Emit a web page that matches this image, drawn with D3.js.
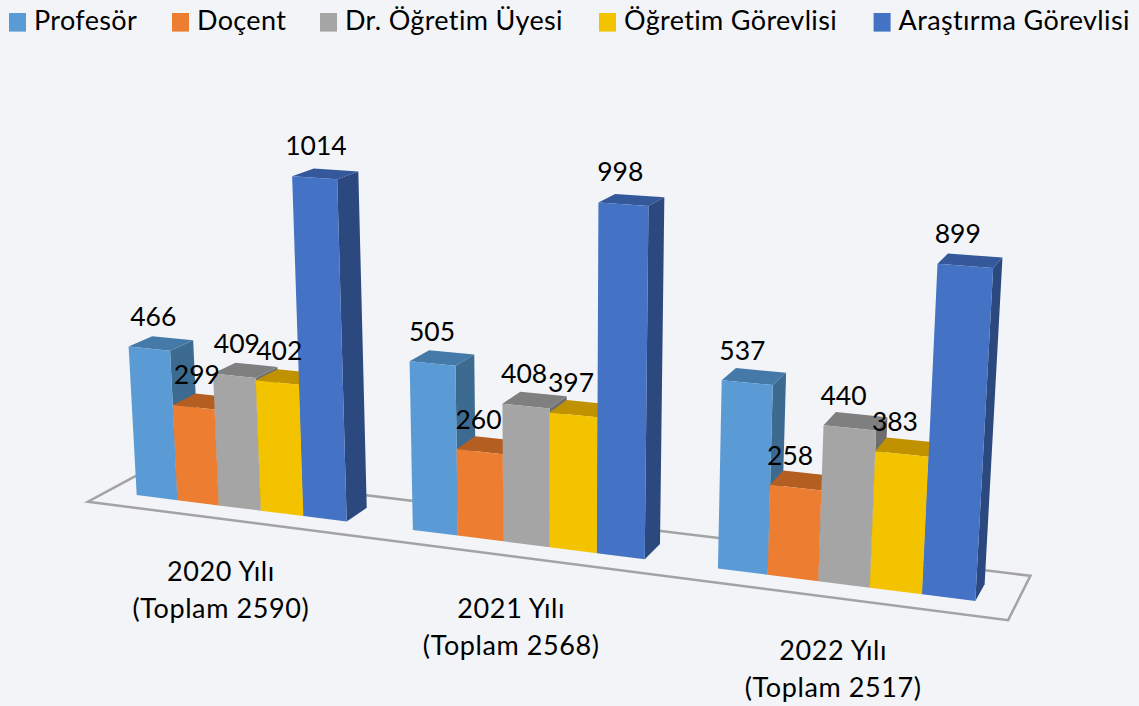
<!DOCTYPE html>
<html>
<head>
<meta charset="utf-8">
<script src="https://cdn.jsdelivr.net/npm/d3@7"></script>
<style>
  html, body { margin: 0; padding: 0; background: #f2f4f7; }
  svg { display: block; }
  text { font-family: Lato, "Open Sans", sans-serif; fill: #000; }
</style>
</head>
<body>
<script>
// Basic props
let w = 1139, h = 706;

// Data
let years = ["2020 Yılı", "2021 Yılı", "2022 Yılı"];
let totals = ["(Toplam 2590)", "(Toplam 2568)", "(Toplam 2517)"];
let titles = ["Profesör", "Doçent", "Dr. Öğretim Üyesi", "Öğretim Görevlisi", "Araştırma Görevlisi"];
let profesor = [466, 505, 537];
let docent = [299, 260, 258];
let drUyesi = [409, 408, 440];
let ogretim = [402, 397, 383];
let arastirma = [1014, 998, 899];
let seriesValues = [profesor, docent, drUyesi, ogretim, arastirma];

// front, top, side colours per series
let fronts = ["#5b9bd5", "#ed7d31", "#a5a5a5", "#f4c300", "#4472c4"];
let tops = ["#4579a8", "#b55e22", "#7f7f7f", "#c09200", "#35589a"];
let sides = ["#3d6a91", "#a85620", "#6e6e6e", "#a87f00", "#2b487f"];

// Scales: everything is in "bar widths" along the floor, thousands upward
let groupScale = d3.scaleBand()
  .domain(years)
  .range([0, 18])
  .paddingInner(1.5 / 6.5);

let barScale = d3.scaleBand()
  .domain(titles)
  .range([0, groupScale.bandwidth()]);

let heightScale = d3.scaleLinear()
  .domain([0, 1000])
  .range([0, 1]);

// Camera fitted to the corners of the bars in the picture
let project = (x, v, z) => {
  let d = 1 - 0.0073 * x - 0.04 * v + 0.01816 * z;
  return [
    (136.7 + 39.47 * x - 22.5 * v + 25.96 * z) / d,
    (495 + 1.5 * x - 332.5 * v - 4 * z) / d
  ];
};

let poly = d3.line().curve(d3.curveLinearClosed);

let svg = d3.select("body")
  .append("svg")
  .attr("width", w)
  .attr("height", h);

// Floor
let floorX = [-0.73, 18.74], floorZ = [-0.8, 1.8];
svg.append("path")
  .attr("class", "floor")
  .attr("d", poly([
    project(floorX[0], 0, floorZ[0]),
    project(floorX[1], 0, floorZ[0]),
    project(floorX[1], 0, floorZ[1]),
    project(floorX[0], 0, floorZ[1])
  ]))
  .attr("fill", "none")
  .attr("stroke", "#a3a3a3")
  .attr("stroke-width", 2.5);

// Flat list of bars, left to right so the nearer ones paint over
let bars = [];
years.forEach((year, g) => {
  titles.forEach((title, s) => {
    bars.push({
      year: year,
      s: s,
      x0: groupScale(year) + barScale(title),
      x1: groupScale(year) + barScale(title) + barScale.bandwidth(),
      value: seriesValues[s][g]
    });
  });
});

let barG = svg.selectAll("g.bar")
  .data(bars)
  .enter()
  .append("g")
  .attr("class", "bar");

// Side
barG.append("path")
  .attr("fill", d => sides[d.s])
  .attr("d", d => {
    let v = heightScale(d.value);
    return poly([project(d.x1, 0, 0), project(d.x1, 0, 1), project(d.x1, v, 1), project(d.x1, v, 0)]);
  });

// Top
barG.append("path")
  .attr("fill", d => tops[d.s])
  .attr("d", d => {
    let v = heightScale(d.value);
    return poly([project(d.x0, v, 0), project(d.x1, v, 0), project(d.x1, v, 1), project(d.x0, v, 1)]);
  });

// Front
barG.append("path")
  .attr("fill", d => fronts[d.s])
  .attr("d", d => {
    let v = heightScale(d.value);
    return poly([project(d.x0, 0, 0), project(d.x1, 0, 0), project(d.x1, v, 0), project(d.x0, v, 0)]);
  });

// Value labels
let labelShift = d3.scaleLinear().domain([0, 17]).range([4, -7.5]);

svg.selectAll("text.value")
  .data(bars)
  .enter()
  .append("text")
  .attr("class", "value")
  .attr("text-anchor", "middle")
  .attr("font-size", 26.5)
  .attr("x", d => project((d.x0 + d.x1) / 2, heightScale(d.value), 0)[0] + labelShift(d.x0))
  .attr("y", d => project((d.x0 + d.x1) / 2, heightScale(d.value), 0)[1] - 23)
  .text(d => d.value);

// Category labels under the floor
let catG = svg.selectAll("g.cat")
  .data(years)
  .enter()
  .append("g")
  .attr("class", "cat")
  .attr("transform", d => {
    let p = project(groupScale(d) + groupScale.bandwidth() / 2, 0, floorZ[0]);
    return "translate(" + (p[0] - 1) + "," + (p[1] + 62) + ")";
  });

catG.append("text")
  .attr("text-anchor", "middle")
  .attr("font-size", 27)
  .attr("letter-spacing", 0.6)
  .text(d => d);

catG.append("text")
  .attr("text-anchor", "middle")
  .attr("font-size", 27)
  .attr("letter-spacing", 0.6)
  .attr("y", 37)
  .text((d, i) => totals[i]);

// Legend
let legendX = [9, 172, 320, 599, 873.6];
let legend = svg.selectAll("g.legend")
  .data(titles)
  .enter()
  .append("g")
  .attr("class", "legend")
  .attr("transform", (d, i) => "translate(" + legendX[i] + ",13)");

legend.append("rect")
  .attr("width", 17)
  .attr("height", 18.6)
  .attr("fill", (d, i) => fronts[i]);

legend.append("text")
  .attr("x", 25)
  .attr("y", 17)
  .attr("font-size", 27)
  .attr("letter-spacing", 0.35)
  .text(d => d);
</script>
</body>
</html>
